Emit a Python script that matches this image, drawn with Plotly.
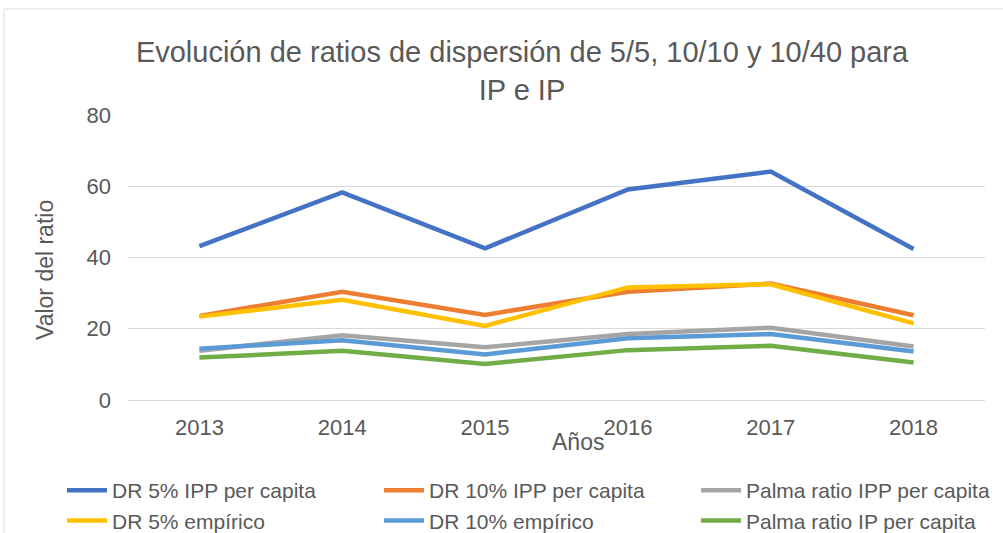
import plotly.graph_objects as go

years = ["2013", "2014", "2015", "2016", "2017", "2018"]
dr5_ipp = [43.2, 58.3, 42.6, 59.1, 64.1, 42.4]
dr10_ipp = [23.6, 30.4, 23.9, 30.4, 32.7, 23.8]
palma_ipp = [13.8, 18.2, 14.8, 18.5, 20.3, 15.0]
dr5_emp = [23.4, 28.1, 20.8, 31.6, 32.5, 21.5]
dr10_emp = [14.4, 16.8, 12.8, 17.3, 18.5, 13.6]
palma_ip = [11.9, 13.8, 10.1, 14.0, 15.2, 10.5]

series = [
    ("DR 5% IPP per capita", dr5_ipp, "#4472C4"),
    ("DR 10% IPP per capita", dr10_ipp, "#ED7D31"),
    ("Palma ratio IPP per capita", palma_ipp, "#A5A5A5"),
    ("DR 5% empírico", dr5_emp, "#FFC000"),
    ("DR 10% empírico", dr10_emp, "#5B9BD5"),
    ("Palma ratio IP per capita", palma_ip, "#70AD47"),
]

FONT = "Liberation Sans, Arial, sans-serif"
fig = go.Figure()
for name, vals, col in series:
    fig.add_trace(go.Scatter(x=years, y=vals, name=name, mode="lines",
                             line=dict(color=col, width=4.5)))

L, R, T, B = 128, 18, 115, 133
W, H = 1003, 533
pw, ph = W - L - R, H - T - B
bottom = T + ph


def px_y(y):
    return (bottom - y) / ph


def px_x(x):
    return (x - L) / pw


fig.update_layout(
    width=W, height=H,
    margin=dict(l=L, r=R, t=T, b=B, autoexpand=False),
    paper_bgcolor="white", plot_bgcolor="white",
    font=dict(family=FONT, color="#595959"),
    title=dict(text="Evolución de ratios de dispersión de 5/5, 10/10 y 10/40 para<br>IP e IP",
               x=522 / W, xanchor="center", y=1 - 62 / H, yanchor="middle",
               font=dict(size=29, color="#595959", family=FONT)),
    xaxis=dict(showgrid=False, showline=True, linecolor="#D9D9D9", linewidth=1,
               range=[-0.5, 5.5], automargin=False,
               tickfont=dict(size=22, color="#595959"), ticklabelstandoff=8,
               zeroline=False),
    yaxis=dict(range=[0, 80], dtick=20, showgrid=True, gridcolor="#D9D9D9",
               gridwidth=1, zeroline=False, showline=False, automargin=False,
               tickfont=dict(size=22, color="#595959"), ticklabelstandoff=16),
    legend=dict(orientation="h", x=px_x(62), xanchor="left",
                y=px_y(541), yanchor="bottom",
                entrywidth=262, entrywidthmode="pixels",
                font=dict(size=21, color="#595959", family=FONT),
                tracegroupgap=0, itemwidth=40),
    annotations=[
        dict(text="Años", xref="paper", yref="paper",
             x=px_x(578), y=px_y(442), xanchor="center", yanchor="middle",
             showarrow=False, font=dict(size=23, color="#595959")),
        dict(text="Valor del ratio", xref="paper", yref="paper", textangle=-90,
             x=px_x(45), y=px_y(270), xanchor="center", yanchor="middle",
             showarrow=False, font=dict(size=23, color="#595959")),
    ],
    shapes=[
        dict(type="line", xref="paper", yref="paper",
             x0=px_x(4), x1=px_x(W + 10), y0=px_y(9), y1=px_y(9),
             line=dict(color="#D9D9D9", width=1)),
        dict(type="line", xref="paper", yref="paper",
             x0=px_x(4), x1=px_x(4), y0=px_y(9), y1=px_y(H + 10),
             line=dict(color="#D9D9D9", width=1)),
    ],
)
fig.write_html("out.html", config={"displayModeBar": False},
               post_script="document.body.style.margin='0';")
